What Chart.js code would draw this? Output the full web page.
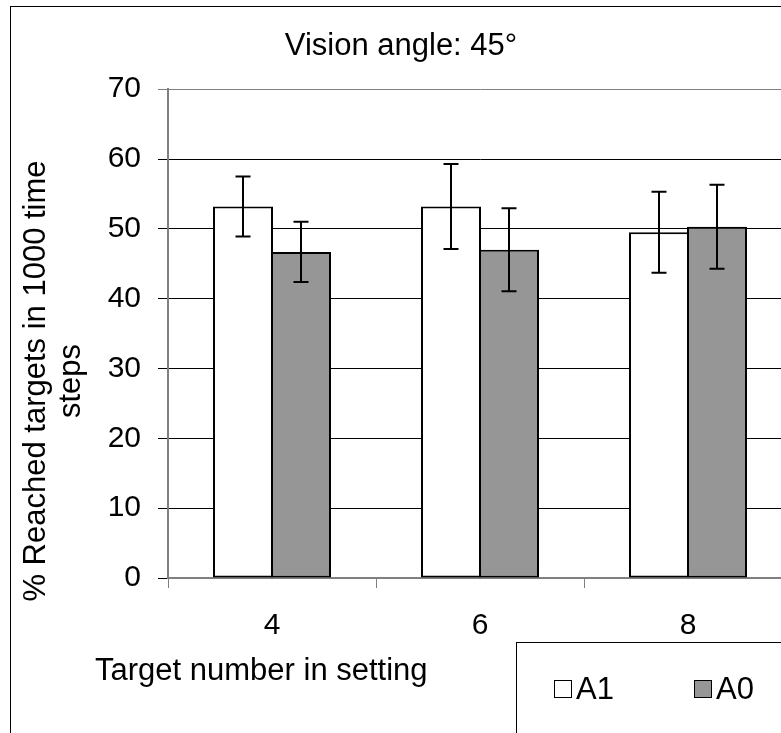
<!DOCTYPE html>
<html><head><meta charset="utf-8">
<script src="https://cdn.jsdelivr.net/npm/chart.js@4.4.1/dist/chart.umd.min.js"></script>
<style>html,body{margin:0;padding:0;overflow:hidden;background:#fff;width:781px;height:733px}canvas{display:block}</style>
</head><body>
<canvas id="c" width="792" height="733"></canvas>
<script>
const categories = ['4', '6', '8'];
const seriesNames = ['A1', 'A0'];
const a1Values = [53.2, 53.2, 49.5];
const a0Values = [46.7, 47.0, 50.3];
const a1Errors = [4.3, 6.1, 5.8];
const a0Errors = [4.3, 5.95, 6.0];
const yTickValues = [0, 10, 20, 30, 40, 50, 60, 70];
const chartTitle = 'Vision angle: 45°';
const yTitleLines = ['% Reached targets in 1000 time', 'steps'];
const xTitle = 'Target number in setting';

const FONT = '"Liberation Sans", Arial, sans-serif';
Chart.defaults.font.family = FONT;
Chart.defaults.color = '#000';

const errorBars = {
  id: 'errorBars',
  afterDatasetsDraw(chart) {
    const ctx = chart.ctx, y = chart.scales.y;
    chart.data.datasets.forEach((ds, i) => {
      const meta = chart.getDatasetMeta(i);
      meta.data.forEach((bar, j) => {
        const v = ds.data[j], e = ds.errors[j];
        const top = y.getPixelForValue(v + e), bot = y.getPixelForValue(v - e);
        const x = Math.round(bar.x);
        ctx.save();
        ctx.strokeStyle = '#000'; ctx.lineWidth = 2;
        ctx.beginPath();
        ctx.moveTo(x, top); ctx.lineTo(x, bot);
        ctx.moveTo(x - 7.5, top); ctx.lineTo(x + 7.5, top);
        ctx.moveTo(x - 7.5, bot); ctx.lineTo(x + 7.5, bot);
        ctx.stroke();
        ctx.restore();
      });
    });
  }
};

const decorations = {
  id: 'decorations',
  beforeDraw(chart) {
    const ctx = chart.ctx;
    ctx.save();
    ctx.fillStyle = '#fff';
    ctx.fillRect(0, 0, chart.width, chart.height);
    ctx.strokeStyle = '#000'; ctx.lineWidth = 1;
    ctx.strokeRect(10.5, 6.5, 2000, 2000);
    ctx.restore();
  },
  afterDraw(chart) {
    const ctx = chart.ctx;
    ctx.save();
    ctx.fillStyle = '#000';
    ctx.font = '31px ' + FONT;
    // y axis title (two lines, rotated)
    ctx.save();
    ctx.translate(0, 381);
    ctx.rotate(-Math.PI / 2);
    ctx.textAlign = 'center';
    ctx.textBaseline = 'alphabetic';
    ctx.fillText(yTitleLines[0], 0, 45);
    ctx.fillText(yTitleLines[1], 0, 80);
    ctx.restore();
    // x axis title
    ctx.textAlign = 'left';
    ctx.textBaseline = 'alphabetic';
    ctx.fillText(xTitle, 95, 680);
    // legend box
    ctx.strokeStyle = '#000'; ctx.lineWidth = 1;
    ctx.fillStyle = '#fff';
    ctx.fillRect(516.5, 642.5, 400, 200);
    ctx.strokeRect(516.5, 642.5, 400, 200);
    const items = [[554.5, 576], [694.5, 716]];
    chart.data.datasets.forEach((ds, i) => {
      const [mx, tx] = items[i];
      ctx.fillStyle = ds.backgroundColor;
      ctx.fillRect(mx, 680.5, 17, 17);
      ctx.strokeStyle = '#000'; ctx.lineWidth = 1;
      ctx.strokeRect(mx, 680.5, 17, 17);
      ctx.fillStyle = '#000';
      ctx.fillText(ds.label, tx, 699);
    });
    ctx.restore();
  }
};

new Chart(document.getElementById('c'), {
  type: 'bar',
  data: {
    labels: categories,
    datasets: [
      { label: seriesNames[0], data: a1Values, errors: a1Errors, backgroundColor: '#ffffff', borderColor: '#000', borderWidth: 2, borderSkipped: false },
      { label: seriesNames[1], data: a0Values, errors: a0Errors, backgroundColor: '#969696', borderColor: '#000', borderWidth: 2, borderSkipped: false }
    ]
  },
  options: {
    responsive: false,
    animation: false,
    devicePixelRatio: 1,
    layout: { padding: { left: 10, right: 0, top: 0, bottom: 0 } },
    datasets: { bar: { categoryPercentage: 0.5577, barPercentage: 1.0345 } },
    plugins: {
      legend: { display: false },
      tooltip: { enabled: false },
      title: { display: true, text: chartTitle, color: '#000', font: { size: 31, weight: 'normal' }, padding: { top: 28, bottom: 24 } }
    },
    scales: {
      x: {
        afterFit(s) { s.height = 155; },
        grid: { drawOnChartArea: false, drawTicks: true, tickLength: 10, color: '#808080', offset: true },
        border: { color: '#808080', width: 2 },
        ticks: { font: { size: 30 }, color: '#000', padding: 20 }
      },
      y: {
        min: 0, max: 70,
        afterFit(s) { s.width = 158; },
        afterBuildTicks(s) { s.ticks = yTickValues.map(v => ({ value: v })); },
        grid: { color: c => (c.tick && c.tick.value === 70) ? '#808080' : '#000', lineWidth: 1, tickLength: 10 },
        border: { color: '#808080', width: 2 },
        ticks: { font: { size: 30 }, color: '#000', padding: 17 }
      }
    }
  },
  plugins: [errorBars, decorations]
});
</script>
</body></html>
